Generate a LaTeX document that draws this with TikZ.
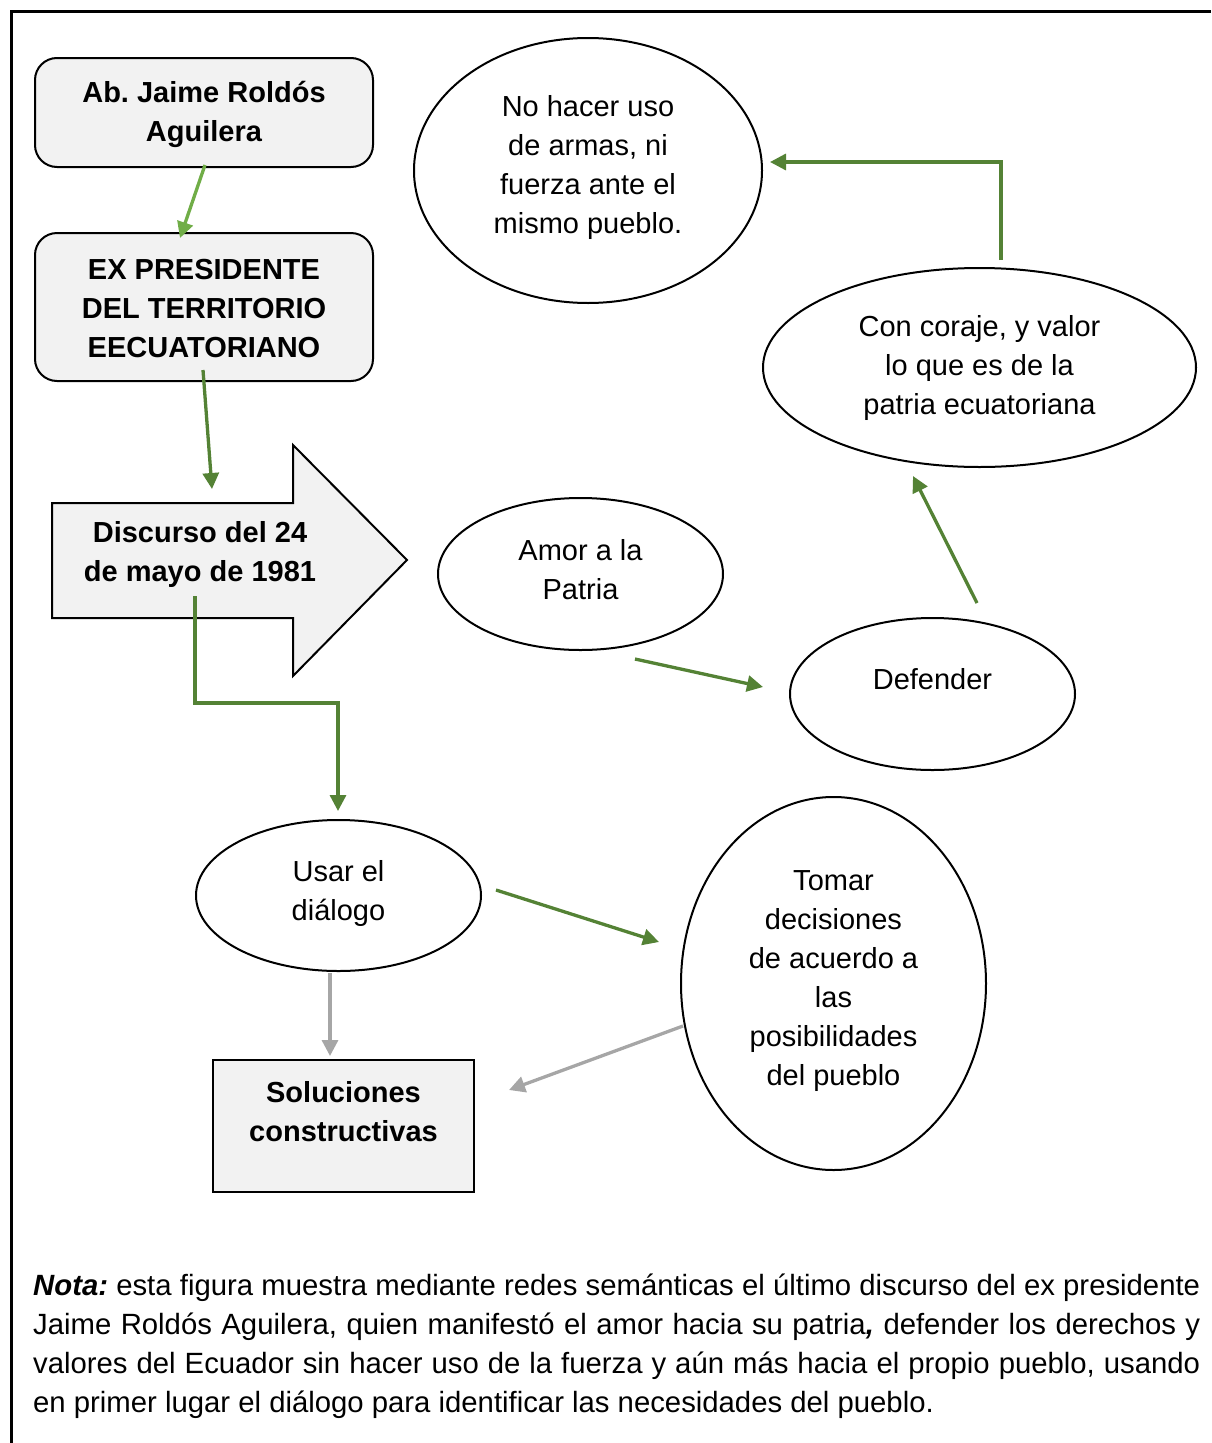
\documentclass[tikz,border=0pt]{standalone}
\usepackage{fontspec}
\setmainfont{Liberation Sans}
\usetikzlibrary{shapes.geometric,arrows.meta}
\definecolor{dgreen}{HTML}{548235}
\definecolor{lgreen}{HTML}{70AD47}
\definecolor{agray}{HTML}{A6A6A6}
\definecolor{boxfill}{HTML}{F2F2F2}
\frenchspacing
\newcommand{\tx}[2]{\parbox[t]{#1pt}{\fontsize{29}{39}\selectfont\centering #2}}
\tikzset{
  rbox/.style={draw, fill=boxfill, rounded corners=22pt, line width=2pt, inner sep=0pt},
  sbox/.style={draw, fill=boxfill, line width=2pt, inner sep=0pt},
  ell/.style={draw, ellipse, line width=2pt, inner sep=0pt},
  lbl/.style={anchor=base, inner sep=0pt},
  garrow/.style={draw=dgreen, line width=3.3pt, -{Triangle[length=16pt,width=16pt]}},
  larrow/.style={draw=lgreen, line width=3.3pt, -{Triangle[length=16pt,width=16pt]}},
  grarrow/.style={draw=agray, line width=3.3pt, -{Triangle[length=16pt,width=16pt]}}
}
\begin{document}
\begin{tikzpicture}[x=1pt,y=-1pt]
\useasboundingbox (0,0) rectangle (1211,1443);
\draw[line width=3pt] (11,1443) -- (11,11) -- (1211,11);

% boxes
\node[rbox, minimum width=338pt, minimum height=109pt] (ab) at (204,112.5) {};
\node[lbl] (abt) at (204,102) {\tx{330}{\bfseries Ab. Jaime Roldós\\Aguilera}};
\node[rbox, minimum width=338pt, minimum height=148pt] (ex) at (204,307) {};
\node[lbl] (ext) at (204,279) {\tx{330}{\bfseries EX PRESIDENTE\\DEL TERRITORIO\\EECUATORIANO}};

% big arrow shape
\draw[line width=2pt, fill=boxfill] (52,503) -- (293,503) -- (293,445) -- (407,560) -- (293,676) -- (293,618) -- (52,618) -- cycle;
\coordinate (disc) at (200,560);
\node[lbl] (disct) at (200,542) {\tx{330}{\bfseries Discurso del 24\\de mayo de 1981}};

\node[sbox, minimum width=261pt, minimum height=132pt] (sol) at (343.5,1126) {};
\node[lbl] (solt) at (343.5,1102) {\tx{255}{\bfseries Soluciones\\constructivas}};

% ellipses
\node[ell, minimum width=348pt, minimum height=265pt] (nohacer) at (588,170.5) {};
\node[lbl] (nohacert) at (588,116) {\tx{330}{No hacer uso\\de armas, ni\\fuerza ante el\\mismo pueblo.}};
\node[ell, minimum width=433pt, minimum height=199pt] (coraje) at (979.5,367.5) {};
\node[lbl] (corajet) at (979.5,336) {\tx{420}{Con coraje, y valor\\lo que es de la\\patria ecuatoriana}};
\node[ell, minimum width=285pt, minimum height=152pt] (amor) at (580.5,574) {};
\node[lbl] (amort) at (580.5,560) {\tx{270}{Amor a la\\Patria}};
\node[ell, minimum width=285pt, minimum height=152pt] (defender) at (932.5,694) {};
\node[lbl] (defendert) at (932.5,689) {\tx{270}{Defender}};
\node[ell, minimum width=285pt, minimum height=151pt] (usar) at (338.5,895.5) {};
\node[lbl] (usart) at (338.5,881) {\tx{270}{Usar el\\diálogo}};
\node[ell, minimum width=305pt, minimum height=373pt] (tomar) at (833.5,983.5) {};
\node[lbl] (tomart) at (833.5,890) {\tx{290}{Tomar\\decisiones\\de acuerdo a\\las\\posibilidades\\del pueblo}};

% connector end points
\coordinate (a1s) at (205,165); \coordinate (a1e) at (180,238);
\coordinate (a2s) at (203,370); \coordinate (a2e) at (212,489);
\coordinate (a3s) at (195,596); \coordinate (a3m) at (338,703); \coordinate (a3e) at (338,811);
\coordinate (a4s) at (496,890); \coordinate (a4e) at (659,942);
\coordinate (a5s) at (635,659); \coordinate (a5e) at (763,687);
\coordinate (a6s) at (977,603); \coordinate (a6e) at (913,476);
\coordinate (a7s) at (1001,260); \coordinate (a7e) at (770,162);
\coordinate (g1s) at (330,973); \coordinate (g1e) at (330,1056);
\coordinate (g2s) at (683,1026); \coordinate (g2e) at (509,1090);

\draw[larrow] (a1s) -- (a1e);
\draw[garrow] (a2s) -- (a2e);
\draw[garrow] (a3s) |- (a3m) -- (a3e);
\draw[garrow] (a4s) -- (a4e);
\draw[garrow] (a5s) -- (a5e);
\draw[garrow] (a6s) -- (a6e);
\draw[garrow] (a7s) |- (a7e);
\draw[grarrow] (g1s) -- (g1e);
\draw[grarrow] (g2s) -- (g2e);

% note
\node[anchor=base west, inner sep=0pt] (nota) at (33,1295) {\parbox[t]{1167pt}{\fontsize{29.3}{39}\selectfont\hyphenpenalty=10000\exhyphenpenalty=10000
\textbf{\textit{Nota:}} esta figura muestra mediante redes semánticas el último discurso del ex presidente\linebreak
Jaime Roldós Aguilera, quien manifestó el amor hacia su patria\textbf{\textit{,}} defender los derechos y\linebreak
valores del Ecuador sin hacer uso de la fuerza y aún más hacia el propio pueblo, usando\linebreak
en primer lugar el diálogo para identificar las necesidades del pueblo.}};
\end{tikzpicture}
\end{document}
